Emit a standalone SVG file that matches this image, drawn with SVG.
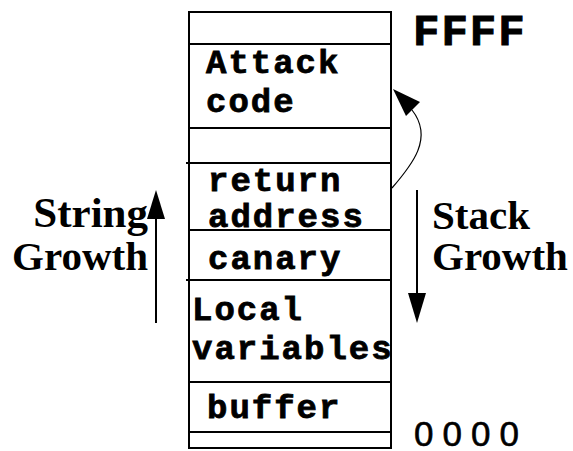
<svg xmlns="http://www.w3.org/2000/svg" width="573" height="451" viewBox="0 0 573 451">
<style>
.box{fill:none;stroke:#000;stroke-width:2}
.ln{stroke:#000;stroke-width:2;fill:none}
.mono{font-family:"Liberation Mono","Courier New",monospace;font-weight:bold;font-size:34px;letter-spacing:2px;fill:#000;stroke:#000;stroke-width:0.8}
.serif{font-family:"Liberation Serif","Times New Roman",serif;font-weight:bold;font-size:41px;fill:#000}
</style>
<rect width="573" height="451" fill="#fff"/>
<g id="stack">
<rect class="box" x="189" y="12" width="202" height="436"/>
<line class="ln" x1="189" y1="44" x2="391" y2="44"/>
<line class="ln" x1="189" y1="128" x2="391" y2="128"/>
<line class="ln" x1="186" y1="163" x2="391" y2="163"/>
<line class="ln" x1="189" y1="230" x2="391" y2="230"/>
<line class="ln" x1="186" y1="280" x2="391" y2="280"/>
<line class="ln" x1="189" y1="382" x2="391" y2="382"/>
<line class="ln" x1="189" y1="432" x2="391" y2="432"/>
</g>
<g id="attack-code"><text class="mono" x="206" y="73">Attack</text><text class="mono" x="206" y="112">code</text></g>
<g id="return-address"><text class="mono" x="208" y="191">return</text><text class="mono" x="208" y="227">address</text></g>
<g id="canary"><text class="mono" x="208" y="269">canary</text></g>
<g id="local-variables"><text class="mono" x="192" y="320">Local</text><text class="mono" x="192" y="359">variables</text></g>
<g id="buffer"><text class="mono" x="207" y="418">buffer</text></g>
<g id="labels">
<text x="413" y="45" style="font-family:'Liberation Mono','Courier New',monospace;font-weight:bold;font-size:44px;letter-spacing:2px;stroke:#000;stroke-width:1">FFFF</text>
<text x="414" y="446" style="font-family:'Liberation Sans',Arial,sans-serif;font-size:35px;letter-spacing:9px;stroke:#000;stroke-width:0.6">0000</text>
<text class="serif" x="148" y="227" text-anchor="end" style="font-size:43px">String</text>
<text class="serif" x="148" y="270" text-anchor="end">Growth</text>
<text class="serif" x="432" y="229">Stack</text>
<text class="serif" x="432" y="270">Growth</text>
</g>
<g id="connectors">
<line class="ln" x1="156" y1="323" x2="156" y2="215"/>
<polygon points="156,190 147,219 165,219"/>
<line class="ln" x1="417" y1="190" x2="417" y2="297"/>
<polygon points="417,323 408,293 426,293"/>
<path d="M392,188 C412,165 434,138 412,110" fill="none" stroke="#000" stroke-width="1.2"/>
<polygon points="393,89 420,102 406,116"/>
</g>
</svg>
